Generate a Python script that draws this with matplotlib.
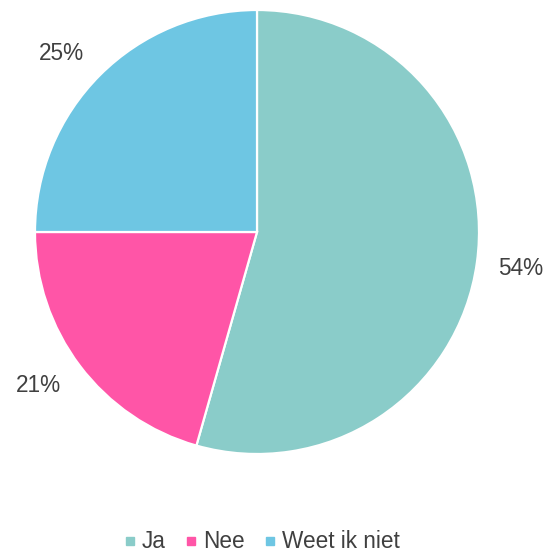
import matplotlib
matplotlib.use('Agg')
import matplotlib.pyplot as plt
from matplotlib.lines import Line2D
from matplotlib.transforms import offset_copy

# Data
categories = ['Ja', 'Nee', 'Weet ik niet']
values = [54.4, 20.6, 25.0]
colors = ['#8ACCC9', '#FF55A7', '#6EC6E3']
text_color = '#404040'

plt.rcParams['font.family'] = ['Liberation Sans', 'DejaVu Sans']

W, H = 549, 552
fig = plt.figure(figsize=(W / 100, H / 100), dpi=100)

# pie centre (257, 232) px from top, radius 222 px
cx, cy, r = 257, 232, 222
ax = fig.add_axes([(cx - r) / W, (H - cy - r) / H, 2 * r / W, 2 * r / H])

wedges, texts, autotexts = ax.pie(
    values, colors=colors, startangle=90, counterclock=False,
    autopct=lambda p: '%d%%' % round(p), pctdistance=1.2,
    wedgeprops=dict(edgecolor='white', linewidth=1.6),
    textprops=dict(color=text_color, fontsize=16.3))
ax.set_xlim(-1, 1)
ax.set_ylim(-1, 1)
ax.set_aspect('equal')

# small nudges (in points) so labels sit like the original's
nudges = [(0, 0), (-4, 5), (-5, -7)]
for t, (dx, dy) in zip(autotexts, nudges):
    t.set_transform(offset_copy(t.get_transform(), fig=fig, x=dx, y=dy, units='points'))

# legend with small square markers
handles = [Line2D([], [], marker='s', linestyle='none', markersize=5.5,
                  markerfacecolor=c, markeredgecolor=c) for c in colors]
fig.legend(handles, categories, loc='center', bbox_to_anchor=(0.478, 10 / H),
           ncol=3, frameon=False, fontsize=16.3, labelcolor=text_color,
           handlelength=0.45, handletextpad=0.3, columnspacing=0.9)

fig.savefig('out.png', dpi=100)
